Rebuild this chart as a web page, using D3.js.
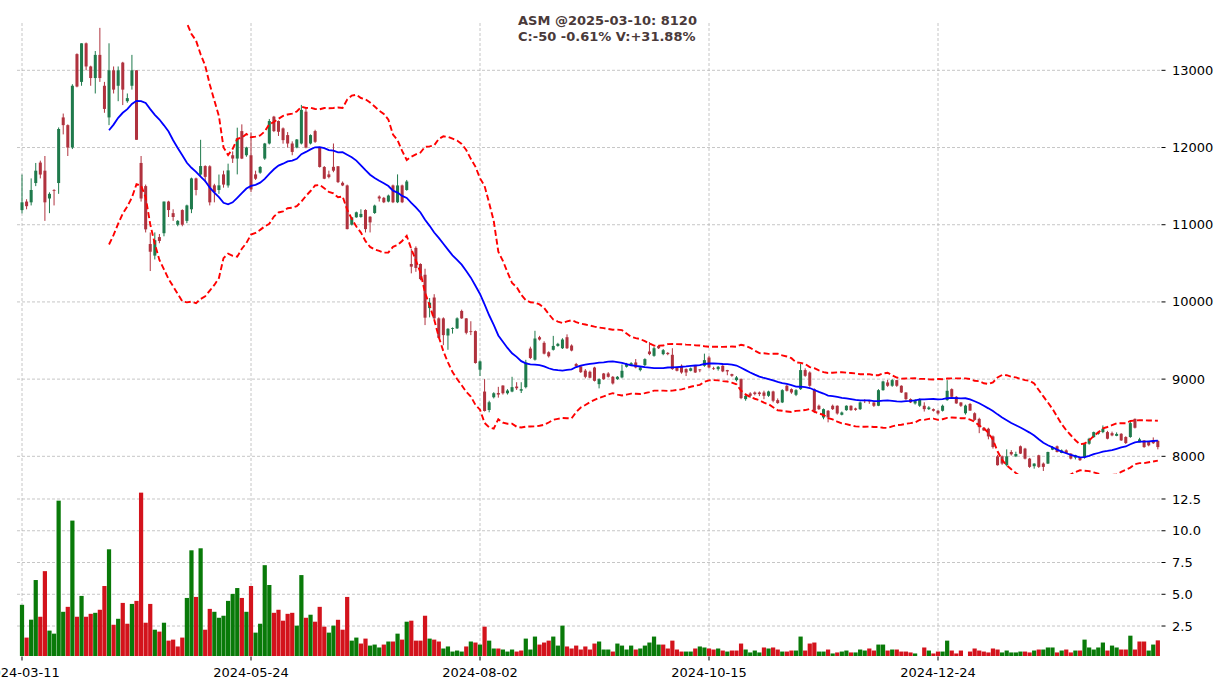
<!DOCTYPE html>
<html><head><meta charset="utf-8">
<script src="https://cdn.jsdelivr.net/npm/d3@7"></script>
<style>body{margin:0;background:#fff}svg{display:block}</style>
</head><body><svg id="c" width="1226" height="690"></svg>
<script>
const tickIndex = [0, 50, 100, 150, 200];
const tickLabels = ["2024-03-11", "2024-05-24", "2024-08-02", "2024-10-15", "2024-12-24"];
const priceTicks = [8000, 9000, 10000, 11000, 12000, 13000];
const volTicks = [2.5, 5.0, 7.5, 10.0, 12.5];

const opens = [11190,11300,11290,11540,11805,11700,11340,11450,11540,12390,
12290,12000,13210,12850,13350,13050,12900,13200,12800,12390,
13000,12800,13100,12600,12800,13000,11800,11500,10750,10600,
10840,10890,11300,11150,11000,11190,11050,11200,11600,11650,
11760,11757,11510,11450,11652,11509,11900,11857,12213,11900,
11900,11652,11674,11857,12052,12400,12343,12248,12161,12052,
12000,12052,12465,12052,12213,12000,11748,11652,11750,11757,
11543,11509,11000,11096,11100,11191,11104,11152,11365,11348,
11300,11509,11291,11509,11450,10491,10700,10491,10352,9920,
10057,9787,9787,9565,9655,9657,9883,9787,9620,9622,
9122,8839,8600,8765,8820,8917,8817,8839,8904,8850,
8896,9396,9252,9543,9470,9348,9380,9430,9400,9543,
9435,9196,9165,9110,9095,9150,8935,9073,9073,9030,
9000,9022,9160,9185,9216,9117,9181,9358,9302,9430,
9324,9340,9315,9151,9173,9130,9108,9173,9125,9173,
9280,9140,9130,9173,9117,9065,8987,9000,8741,8814,
8827,8827,8827,8784,8840,8728,8698,8914,8870,8797,
8870,9117,9086,8870,8655,8503,8590,8655,8655,8538,
8598,8655,8620,8611,8725,8720,8698,8655,8857,8957,
8914,8987,8914,8827,8741,8685,8655,8655,8611,8611,
8590,8590,8728,8870,8771,8698,8558,8678,8558,8485,
8370,8357,8258,8000,8000,7885,8056,8000,8130,8100,
7970,7872,8013,7906,7906,8086,8130,8043,8077,8035,
7983,7983,7983,8163,8249,8292,8314,8314,8300,8265,
8292,8250,8250,8485,8180,8206,8185,8206,8200];

const highs = [11650,11330,11600,11800,11830,11890,11420,11460,12260,12440,
12300,12820,13220,13350,13360,13060,13250,13550,12850,13350,
13050,13050,13110,12700,13200,13000,11890,11520,10900,10900,
10880,11300,11310,11200,11060,11200,11260,11610,11610,12100,
11770,11770,11530,11650,11700,11791,11950,12257,12300,12010,
12196,11700,11760,12060,12370,12410,12350,12260,12200,12080,
12110,12552,12500,12170,12230,12010,11760,11700,12052,11760,
11560,11520,11100,11170,11200,11200,11110,11260,11380,11360,
11390,11520,11652,11520,11580,10690,10720,10500,10430,10050,
10100,9800,9800,9660,9670,9800,9900,9790,9750,9630,
9240,9000,8720,8830,8900,8920,8870,9030,8960,8960,
9250,9420,9626,9560,9490,9360,9560,9470,9530,9580,
9450,9210,9180,9130,9110,9160,9010,9080,9090,9040,
9040,9190,9210,9220,9260,9160,9270,9480,9420,9440,
9390,9350,9400,9160,9190,9140,9150,9180,9130,9330,
9300,9160,9170,9180,9120,9070,9040,9010,8800,8830,
8840,8840,8850,8850,8850,8750,8870,8930,8880,8870,
9200,9140,9100,8880,8670,8620,8600,8670,8660,8580,
8660,8660,8630,8710,8740,8730,8700,8870,8980,8990,
9000,8990,8920,8830,8750,8740,8750,8700,8650,8620,
8600,8670,8987,8880,8780,8700,8670,8690,8570,8500,
8380,8370,8270,8020,8010,8090,8080,8060,8140,8110,
7980,7910,8020,7920,8060,8130,8140,8090,8090,8040,
8020,7990,8170,8240,8320,8330,8400,8330,8320,8310,
8300,8260,8460,8490,8240,8210,8190,8245,8210];

const lows = [11147,11200,11250,11500,11600,11050,11150,11250,11400,12170,
11890,11980,12780,12800,13000,12800,12700,12850,12450,12290,
12700,12600,12550,12580,12750,12100,11300,10900,10400,10550,
10760,10850,11100,11050,10980,10980,11020,11150,11380,11620,
11550,11250,11290,11400,11480,11480,11800,11652,11850,11880,
11422,11580,11660,11840,12040,12200,12150,12050,12000,11900,
11990,12040,11990,12040,12060,11740,11590,11600,11680,11540,
11500,10940,10990,11090,11090,10900,10900,11140,11300,11280,
11290,11280,11280,11280,11440,10370,10390,10280,9700,9800,
9780,9530,9440,9380,9590,9650,9780,9580,9570,9200,
9040,8580,8570,8750,8760,8800,8800,8830,8860,8820,
8880,9260,9240,9500,9320,9280,9370,9420,9390,9390,
9360,9160,9080,9010,9010,8970,8880,8990,9020,8930,
8990,9010,9150,9175,9140,9100,9170,9310,9290,9390,
9310,9310,9120,9100,9070,9040,9100,9080,9090,9160,
9140,9120,9110,9090,9050,9030,8970,8740,8720,8760,
8790,8780,8740,8770,8700,8680,8690,8840,8810,8780,
8860,9030,8900,8560,8600,8480,8440,8600,8540,8530,
8590,8590,8590,8600,8690,8680,8640,8650,8850,8900,
8900,8900,8820,8730,8690,8670,8640,8580,8600,8580,
8540,8580,8720,8760,8680,8640,8540,8590,8460,8300,
8330,8220,8100,7880,7890,7870,8010,7990,8030,7960,
7850,7840,7850,7810,7900,8080,8050,8040,8030,7960,
7960,7940,7970,8150,8240,8280,8300,8220,8260,8260,
8200,8160,8240,8360,8180,8110,8130,8160,8090];

const closes = [11290,11240,11450,11700,11650,11290,11400,11440,12240,12290,
12000,12800,12790,13350,13050,12900,13200,12900,12500,13000,
12750,13000,12750,12640,13000,12100,11340,10940,10650,10800,
10790,11300,11190,11100,11050,11000,11250,11600,11450,11760,
11620,11290,11420,11510,11520,11704,11857,12117,11857,12000,
11457,11596,11748,12052,12343,12213,12204,12096,12052,11943,
12104,12487,12000,12161,12074,11748,11596,11617,11700,11552,
11509,10943,11096,11161,11140,10943,11030,11248,11340,11291,
11378,11291,11509,11291,11560,10457,10440,10296,9796,9990,
9787,9535,9570,9652,9660,9787,9787,9600,9610,9209,
9230,8587,8700,8817,8800,8817,8852,8896,8882,8870,
9217,9274,9526,9513,9330,9296,9430,9457,9513,9400,
9370,9165,9090,9030,9018,8978,9000,9000,9030,8944,
9030,9108,9195,9207,9151,9151,9259,9324,9400,9400,
9375,9324,9130,9108,9086,9086,9140,9086,9115,9246,
9151,9130,9160,9100,9100,9043,9022,8754,8784,8784,
8806,8806,8784,8840,8720,8690,8857,8849,8827,8857,
9117,9043,8914,8590,8611,8611,8503,8611,8555,8568,
8655,8598,8602,8698,8715,8710,8655,8857,8970,8914,
8987,8914,8827,8741,8698,8728,8741,8611,8633,8590,
8555,8655,8849,8771,8685,8655,8657,8592,8472,8378,
8335,8258,8120,7885,7906,8000,8026,8030,8035,7970,
7863,7906,7863,7863,8056,8120,8056,8077,8043,7970,
8013,7950,8163,8228,8314,8314,8357,8228,8271,8290,
8206,8172,8430,8370,8220,8120,8142,8170,8120];

const volumes = [4.17,1.59,3.0,6.12,3.23,6.82,2.14,1.9,12.37,3.62,
4.01,10.8,3.23,4.87,3.23,3.46,3.54,3.78,5.65,8.54,
2.6,3.07,4.32,2.68,4.24,4.48,13.0,2.76,4.24,2.21,
2.06,2.76,1.35,1.43,0.89,1.59,4.71,8.46,4.79,8.62,
2.21,3.85,3.62,3.15,3.31,4.48,5.03,5.49,4.71,3.62,
5.65,1.98,2.68,7.29,5.73,3.54,3.78,2.92,3.46,3.54,
2.53,6.51,3.15,3.39,2.84,4.01,2.45,1.98,2.53,2.99,
2.21,4.79,1.35,1.59,1.12,1.51,0.96,1.04,0.81,1.04,
1.28,1.28,1.9,1.43,2.84,2.92,1.35,1.35,3.31,1.51,
1.43,1.28,0.73,0.89,0.49,0.57,0.49,0.89,1.28,1.2,
1.04,2.45,1.35,0.73,0.73,0.65,0.49,0.65,0.49,0.57,
1.51,0.65,1.67,1.04,1.2,1.35,1.67,0.96,2.53,0.89,
0.73,0.96,0.65,0.89,0.65,1.12,1.28,0.65,0.65,0.49,
1.12,0.96,0.65,0.96,0.65,0.73,0.96,1.2,1.67,1.04,
1.04,0.73,1.35,0.65,0.49,0.49,0.49,0.73,0.89,0.81,
0.73,0.65,0.73,0.57,0.49,0.57,0.57,1.12,0.65,0.42,
0.57,0.42,0.81,0.73,0.81,0.65,0.49,0.49,0.57,0.57,
1.67,0.57,1.12,1.2,0.49,0.49,0.65,0.34,0.42,0.49,
0.57,0.42,0.42,0.65,0.57,0.73,0.57,1.04,1.04,0.57,
0.65,0.65,0.49,0.49,0.42,0.34,0.12,0.81,0.57,0.34,
0.49,0.49,1.35,0.57,0.34,0.57,0.12,0.49,0.73,0.57,
0.49,0.42,0.73,0.65,0.42,0.57,0.42,0.42,0.49,0.49,
0.42,0.57,0.65,0.65,0.81,0.81,0.42,0.57,0.65,0.42,
0.57,0.57,1.43,0.81,0.65,0.81,1.2,0.57,0.96,0.81,
0.65,0.65,1.74,0.65,1.28,1.28,0.57,1.04,1.37];

const titleLines = ["ASM @2025-03-10: 8120", "C:-50 -0.61% V:+31.88%"];

const maWindow = 20;
const bandK = 2;

// ---------- drawing ----------
const svg = d3.select('#c');
const FONT = 'DejaVu Sans, Verdana, sans-serif';
const n = closes.length;
const xLeft = 17, xRight = 1161;
const priceTop = 23, priceBottom = 474;
const volTop = 475.5, volBottom = 656;

const x = d3.scaleLinear().domain([0, 200]).range([22, 938]);
const y = d3.scaleLinear().domain([7771, 13613]).range([priceBottom, priceTop]);
const yv = d3.scaleLinear().domain([0.14, 14.35]).range([volBottom, volTop]);

const upCandle = '#1f7a4c', downCandle = '#b0323e';
const upVol = '#097a09', downVol = '#d3131c';

const defs = svg.append('defs');
defs.append('clipPath').attr('id', 'pclip').append('rect')
  .attr('x', xLeft).attr('y', priceTop).attr('width', xRight - xLeft).attr('height', priceBottom - priceTop);
defs.append('clipPath').attr('id', 'vclip').append('rect')
  .attr('x', xLeft).attr('y', volTop).attr('width', xRight - xLeft).attr('height', volBottom - volTop);

// grid
const grid = svg.append('g').attr('stroke', '#b8b8b8').attr('stroke-width', 0.8).attr('stroke-dasharray', '3,2');
priceTicks.forEach(t => grid.append('line').attr('x1', xLeft).attr('x2', xRight).attr('y1', y(t)).attr('y2', y(t)));
volTicks.forEach(t => grid.append('line').attr('x1', xLeft).attr('x2', xRight).attr('y1', yv(t)).attr('y2', yv(t)));
tickIndex.forEach(i => grid.append('line').attr('x1', x(i)).attr('x2', x(i)).attr('y1', priceTop).attr('y2', volBottom));

// volume bars (colour from close vs previous close)
const vg = svg.append('g').attr('clip-path', 'url(#vclip)');
const step = x(1) - x(0);
const vw = step * 0.92;
volumes.forEach((v, i) => {
  const up = i === 0 ? true : closes[i] >= closes[i - 1];
  vg.append('rect').attr('x', x(i) - vw / 2).attr('width', vw)
    .attr('y', yv(v)).attr('height', Math.max(0, volBottom - yv(v)))
    .attr('fill', up ? upVol : downVol);
});

// candles
const cg = svg.append('g').attr('clip-path', 'url(#pclip)');
const bw = step * 0.66;
for (let i = 0; i < n; i++) {
  const up = closes[i] >= opens[i];
  const col = up ? upCandle : downCandle;
  cg.append('line').attr('x1', x(i)).attr('x2', x(i)).attr('y1', y(highs[i])).attr('y2', y(lows[i]))
    .attr('stroke', col).attr('stroke-width', 1);
  const top = y(Math.max(opens[i], closes[i])), bot = y(Math.min(opens[i], closes[i]));
  cg.append('rect').attr('x', x(i) - bw / 2).attr('width', bw).attr('y', top).attr('height', Math.max(0.8, bot - top))
    .attr('fill', col);
}

// moving average + bollinger bands
const ma = [], upper = [], lower = [];
for (let i = 0; i < n; i++) {
  if (i < maWindow - 1) { ma.push(null); upper.push(null); lower.push(null); continue; }
  const w = closes.slice(i - maWindow + 1, i + 1);
  const m = d3.mean(w), s = d3.deviation(w);
  ma.push(m); upper.push(m + bandK * s); lower.push(m - bandK * s);
}
const line = d3.line().defined(d => d != null).x((d, i) => x(i)).y(d => y(d));
cg.append('path').datum(upper).attr('d', line).attr('fill', 'none').attr('stroke', '#ff0000')
  .attr('stroke-width', 1.9).attr('stroke-dasharray', '6,3');
cg.append('path').datum(lower).attr('d', line).attr('fill', 'none').attr('stroke', '#ff0000')
  .attr('stroke-width', 1.9).attr('stroke-dasharray', '6,3');
cg.append('path').datum(ma).attr('d', line).attr('fill', 'none').attr('stroke', '#0000ff').attr('stroke-width', 1.8);

// right axes
const ax = svg.append('g').attr('font-family', FONT).attr('font-size', 13).attr('fill', '#000');
priceTicks.forEach(t => {
  ax.append('line').attr('x1', xRight + 0.5).attr('x2', xRight + 4.5).attr('y1', y(t)).attr('y2', y(t)).attr('stroke', '#000').attr('stroke-width', 1);
  ax.append('text').attr('x', 1172).attr('y', y(t)).attr('dy', '0.35em').text(d3.format('d')(t));
});
volTicks.forEach(t => {
  ax.append('line').attr('x1', xRight + 0.5).attr('x2', xRight + 4.5).attr('y1', yv(t)).attr('y2', yv(t)).attr('stroke', '#000').attr('stroke-width', 1);
  ax.append('text').attr('x', 1172).attr('y', yv(t)).attr('dy', '0.35em').text(d3.format('.1f')(t));
});
// bottom axis (first label is cut at the left edge, as in the reference)
tickIndex.forEach((ti, k) => {
  ax.append('line').attr('x1', x(ti)).attr('x2', x(ti)).attr('y1', volBottom + 0.5).attr('y2', volBottom + 4.5).attr('stroke', '#000').attr('stroke-width', 1);
  ax.append('text').attr('x', x(ti)).attr('y', 677).attr('text-anchor', 'middle').text(tickLabels[k]);
});

// title
const tt = svg.append('text').attr('font-family', FONT).attr('font-size', 13).attr('font-weight', 'bold').attr('fill', '#4a3a3a');
titleLines.forEach((s, k) => tt.append('tspan').attr('x', 518).attr('y', 25 + k * 16).text(s));
</script></body></html>
